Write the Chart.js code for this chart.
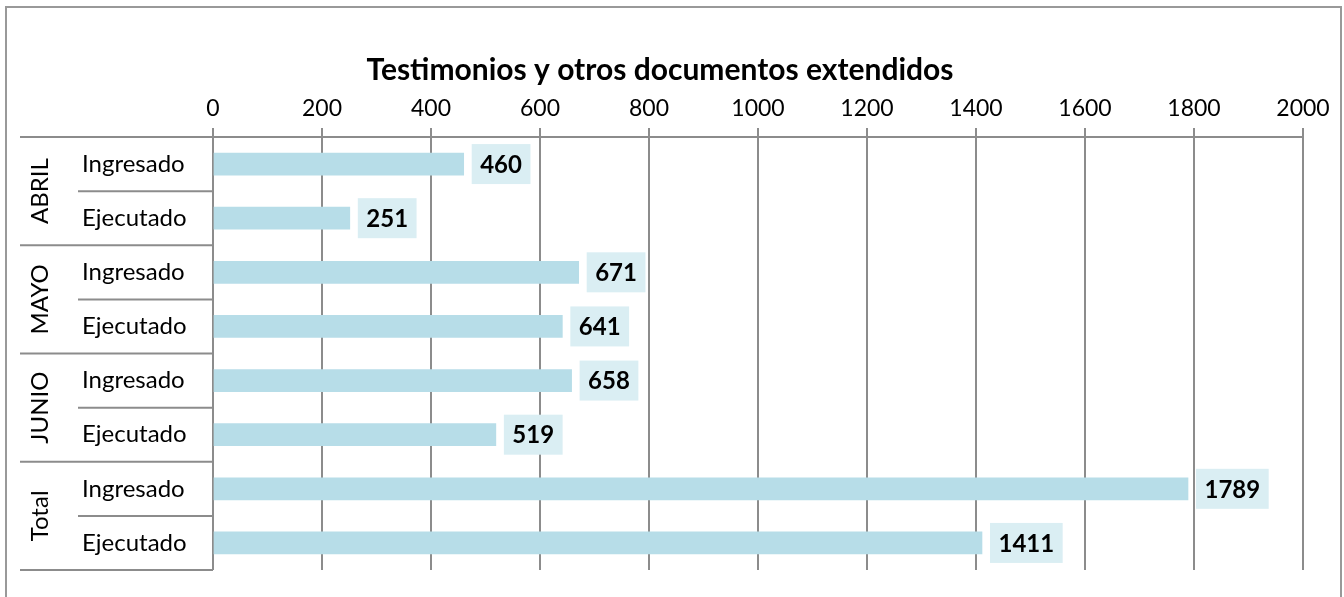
<!DOCTYPE html>
<html>
<head>
<meta charset="utf-8">
<script src="https://cdn.jsdelivr.net/npm/chart.js@4"></script>
<style>
  html, body { margin: 0; padding: 0; background: #fff; }
  #wrap { width: 1344px; height: 597px; }
</style>
</head>
<body>
<div id="wrap"><canvas id="chart"></canvas></div>
<script>
const title = 'Testimonios y otros documentos extendidos';
const groups = ['ABRIL', 'MAYO', 'JUNIO', 'Total'];
const subLabels = ['Ingresado', 'Ejecutado'];
const values = [460, 251, 671, 641, 658, 519, 1789, 1411];
const tickValues = [0, 200, 400, 600, 800, 1000, 1200, 1400, 1600, 1800, 2000];

const FONT = 'Lato, "Open Sans", sans-serif';
const GRID = '#8c8c8c';

// one category per bar, labels drawn by the plugin below
const labels = [];
groups.forEach(g => subLabels.forEach(s => labels.push(g + ' ' + s)));

const decor = {
  id: 'decor',
  beforeDraw(chart) {
    const c = chart.ctx;
    c.save();
    c.strokeStyle = '#999';
    c.lineWidth = 2;
    c.strokeRect(6, 7, 1335, 600);
    c.restore();
  },
  afterDraw(chart) {
    const c = chart.ctx;
    const area = chart.chartArea;
    const yScale = chart.scales.y;
    const n = labels.length;
    const rowH = (area.bottom - area.top) / n;
    c.save();
    // title
    c.fillStyle = '#000';
    c.font = 'bold 30px ' + FONT;
    c.textAlign = 'center';
    c.textBaseline = 'middle';
    c.fillText(title, 660, 70);

    // category table lines
    c.strokeStyle = GRID;
    c.lineWidth = 2;
    for (let i = 0; i <= n; i++) {
      const y = area.top + i * rowH;
      const x0 = (i % 2 === 0) ? 20 : 78;
      c.beginPath();
      c.moveTo(x0, y);
      c.lineTo(area.left, y);
      c.stroke();
    }
    // sub labels
    c.font = '24px ' + FONT;
    c.textAlign = 'left';
    c.textBaseline = 'middle';
    labels.forEach((l, i) => {
      const y = yScale.getPixelForValue(i);
      c.fillText(subLabels[i % 2], 82, y);
    });
    // group labels rotated
    groups.forEach((g, gi) => {
      const y = area.top + (gi * 2 + 1) * rowH;
      c.save();
      c.translate(40, y);
      c.rotate(-Math.PI / 2);
      c.textAlign = 'center';
      c.fillText(g, 0, 0);
      c.restore();
    });

    // data labels
    const meta = chart.getDatasetMeta(0);
    c.font = 'bold 24px ' + FONT;
    meta.data.forEach((bar, i) => {
      const txt = String(values[i]);
      const w = c.measureText(txt).width + 17;
      const x = bar.x + 8;
      c.fillStyle = '#daeef3';
      c.fillRect(x, bar.y - 20, w, 40);
      c.fillStyle = '#000';
      c.textAlign = 'center';
      c.fillText(txt, x + w / 2, bar.y + 1);
    });
    c.restore();
  }
};

new Chart(document.getElementById('chart'), {
  type: 'bar',
  data: {
    labels: labels,
    datasets: [{
      data: values,
      backgroundColor: '#b7dde8',
      barThickness: 22
    }]
  },
  options: {
    indexAxis: 'y',
    responsive: true,
    maintainAspectRatio: false,
    animation: false,
    layout: { padding: { left: 213, right: 41, top: 90, bottom: 27 } },
    plugins: {
      legend: { display: false },
      tooltip: { enabled: false }
    },
    scales: {
      x: {
        position: 'top',
        min: 0,
        max: 2000,
        afterBuildTicks: s => { s.ticks = tickValues.map(v => ({ value: v })); },
        afterFit: s => { s.height = 47; },
        ticks: {
          color: '#000',
          font: { family: FONT, size: 23 },
          padding: 6,
          maxRotation: 0,
          callback: v => String(v)
        },
        grid: { color: GRID, lineWidth: 2, tickLength: 9 },
        border: { color: GRID, width: 2 }
      },
      y: {
        display: false
      }
    }
  },
  plugins: [decor]
});
</script>
</body>
</html>
